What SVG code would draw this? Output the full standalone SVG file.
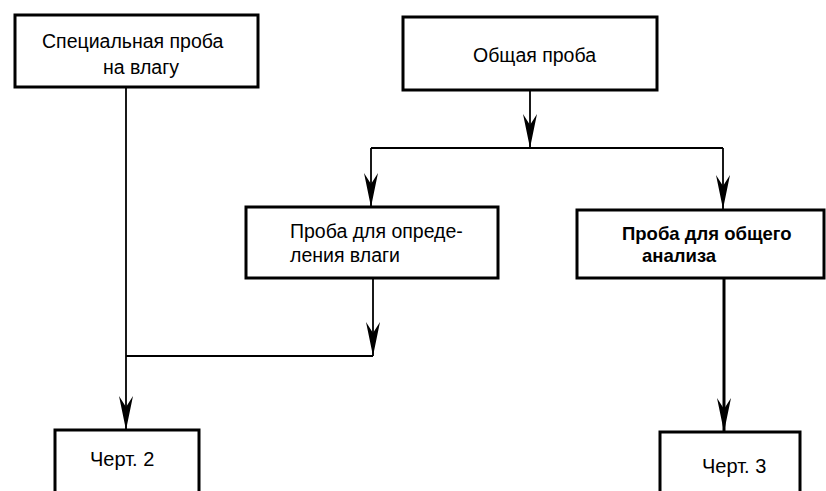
<svg xmlns="http://www.w3.org/2000/svg" width="826" height="491" viewBox="0 0 826 491">
<style>
.box{fill:#fff;stroke:#000;stroke-width:3}
.t{font-family:"Liberation Sans",Arial,sans-serif;font-size:19.5px;fill:#000}
.b{font-weight:bold;font-size:18.5px}
.k{font-size:20px}
.c{fill:none;stroke:#000;stroke-width:1.8}
.c2{fill:none;stroke:#000;stroke-width:3}
</style>
<defs>
<marker id="ah" viewBox="-36 -9 38 18" refX="0" refY="0" markerWidth="38" markerHeight="18" markerUnits="userSpaceOnUse" orient="auto">
<path d="M0,0 L-34,-7 L-23,0 L-34,7 Z" fill="#000"/>
</marker>
</defs>
<rect width="826" height="491" fill="#fff"/>
<g id="connectors">
<path class="c" d="M126,87 V430" marker-end="url(#ah)"/>
<path class="c" d="M530,90 V148" marker-end="url(#ah)"/>
<path class="c" d="M371,148 H723"/>
<path class="c" d="M371,148 V207" marker-end="url(#ah)"/>
<path class="c" d="M723,148 V209" marker-end="url(#ah)"/>
<path class="c" d="M373,278 V356" marker-end="url(#ah)"/>
<path class="c" d="M126,356 H373"/>
<path class="c2" d="M724,278 V432" marker-end="url(#ah)"/>
</g>
<g id="n1">
<rect class="box" x="15" y="15" width="243" height="72"/>
<text class="t" x="42" y="48">Специальная проба</text>
<text class="t" x="103" y="74">на влагу</text>
</g>
<g id="n2">
<rect class="box" x="403" y="17" width="254" height="73"/>
<text class="t" x="473" y="62">Общая проба</text>
</g>
<g id="n3">
<rect class="box" x="246" y="207" width="252" height="71"/>
<text class="t" x="290" y="238">Проба для опреде-</text>
<text class="t" x="290" y="262">ления влаги</text>
</g>
<g id="n4">
<rect class="box" x="577" y="210" width="247" height="68"/>
<text class="t b" x="622" y="240">Проба для общего</text>
<text class="t b" x="642" y="262">анализа</text>
</g>
<g id="n5">
<rect class="box" x="55" y="430" width="144" height="70"/>
<text class="t k" x="90" y="466">Черт. 2</text>
</g>
<g id="n6">
<rect class="box" x="660" y="432" width="140" height="70"/>
<text class="t k" x="702" y="473">Черт. 3</text>
</g>
</svg>
